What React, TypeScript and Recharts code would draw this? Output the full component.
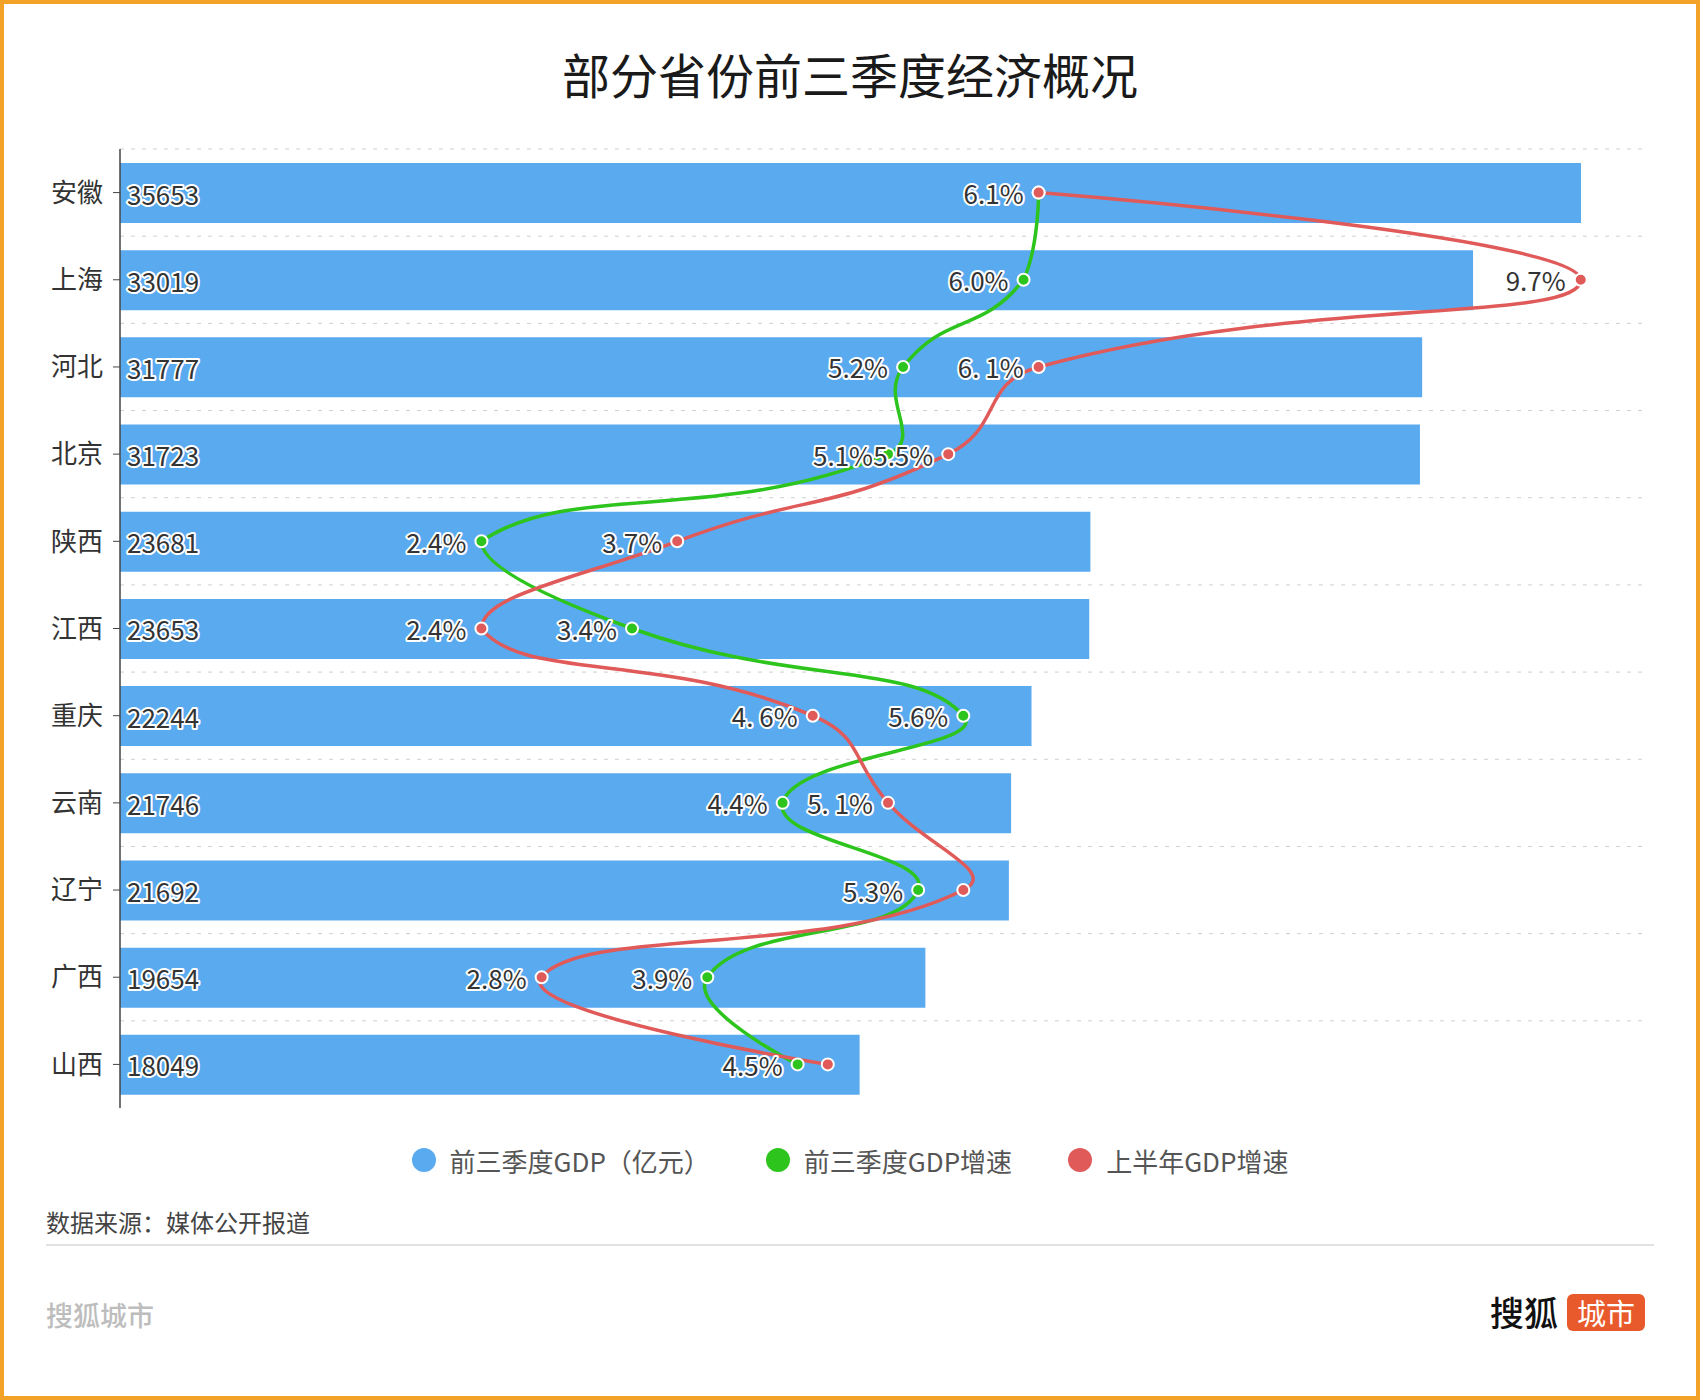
import React from 'react';
import { ComposedChart, Bar, Line, XAxis, YAxis, CartesianGrid, LabelList } from 'recharts';

const FONT = "'Noto Sans CJK SC', 'Noto Sans', sans-serif";

// data
const provinces = ['安徽', '上海', '河北', '北京', '陕西', '江西', '重庆', '云南', '辽宁', '广西', '山西'];
const gdpQ3 = [35653, 33019, 31777, 31723, 23681, 23653, 22244, 21746, 21692, 19654, 18049];
const growthQ3 = [6.1, 6.0, 5.2, 5.1, 2.4, 3.4, 5.6, 4.4, 5.3, 3.9, 4.5];
const growthH1 = [6.1, 9.7, 6.1, 5.5, 3.7, 2.4, 4.6, 5.1, 5.6, 2.8, 4.7];
const growthQ3Labels = ['6.1%', '6.0%', '5.2%', '5.1%', '2.4%', '3.4%', '5.6%', '4.4%', '5.3%', '3.9%', '4.5%'];
const growthH1Labels = ['6.1%', '9.7%', '6. 1%', '5.5%', '3.7%', '2.4%', '4. 6%', '5. 1%', '5.6%', '2.8%', '4.7%'];
const seriesNames = ['前三季度GDP（亿元）', '前三季度GDP增速', '上半年GDP增速'];
const seriesColors = ['#5AAAF0', '#2EC41E', '#E05A5A'];

const GDP_AXIS_MAX = 37264;
const RATE_AXIS_MAX = 10.14;

const chartData = provinces.map((p, i) => ({
  province: p,
  gdp: gdpQ3[i],
  q3: growthQ3[i],
  h1: growthH1[i],
}));

// bezier smoothing like a "smooth: true" line: end points keep no handle,
// inner points get handles along (next - prev), split by segment length
const smoothCurve = (context: any) => {
  let pts: [number, number][] = [];
  return {
    areaStart() {},
    areaEnd() {},
    lineStart() {
      pts = [];
    },
    point(x: number, y: number) {
      pts.push([+x, +y]);
    },
    lineEnd() {
      if (!pts.length) return;
      const s = 0.5;
      const n = pts.length;
      const xs = pts.map((p) => p[0]);
      const ys = pts.map((p) => p[1]);
      const minX = Math.min(...xs), maxX = Math.max(...xs);
      const minY = Math.min(...ys), maxY = Math.max(...ys);
      const clamp = (p: [number, number]): [number, number] => [
        Math.min(maxX, Math.max(minX, p[0])),
        Math.min(maxY, Math.max(minY, p[1])),
      ];
      const cpIn: [number, number][] = [];
      const cpOut: [number, number][] = [];
      for (let i = 0; i < n; i++) {
        const cur = pts[i];
        if (i === 0 || i === n - 1) {
          cpIn.push(cur);
          cpOut.push(cur);
          continue;
        }
        const prev = pts[i - 1];
        const next = pts[i + 1];
        const vx = (next[0] - prev[0]) * s;
        const vy = (next[1] - prev[1]) * s;
        let d0 = Math.hypot(cur[0] - prev[0], cur[1] - prev[1]);
        let d1 = Math.hypot(next[0] - cur[0], next[1] - cur[1]);
        const sum = d0 + d1;
        if (sum) {
          d0 /= sum;
          d1 /= sum;
        }
        cpIn.push(clamp([cur[0] - vx * d0, cur[1] - vy * d0]));
        cpOut.push(clamp([cur[0] + vx * d1, cur[1] + vy * d1]));
      }
      context.moveTo(pts[0][0], pts[0][1]);
      for (let i = 1; i < n; i++) {
        context.bezierCurveTo(cpOut[i - 1][0], cpOut[i - 1][1], cpIn[i][0], cpIn[i][1], pts[i][0], pts[i][1]);
      }
    },
  };
};

const outlinedText = (x: number, y: number, text: string, anchor: 'start' | 'end') => (
  <text
    x={x}
    y={y}
    textAnchor={anchor}
    dominantBaseline="central"
    fontSize={26}
    fontFamily={FONT}
    fill="#333"
    stroke="#fff"
    strokeWidth={4}
    strokeLinejoin="round"
    paintOrder="stroke"
  >
    {text}
  </text>
);

const BarValueLabel = (props: any) => {
  const { x, y, height, value } = props;
  return outlinedText(x + 7, y + height / 2, String(value), 'start');
};

const Q3Label = (props: any) => {
  const { x, y, index } = props;
  return outlinedText(x - 15, y, growthQ3Labels[index], 'end');
};

const H1Label = (props: any) => {
  const { x, y, index } = props;
  // labels that would sit on top of the green one are dropped
  if (Math.abs(growthH1[index] - growthQ3[index]) < 0.35) return null;
  return outlinedText(x - 15, y, growthH1Labels[index], 'end');
};

const App: React.FC = () => {
  return (
    <div style={{ position: 'absolute', left: 0, top: 0, width: 1700, height: 1400, background: '#fff', fontFamily: FONT }}>
      <div
        style={{
          position: 'absolute',
          left: 0,
          width: 1700,
          textAlign: 'center',
          top: 42,
          fontSize: 48,
          fontWeight: 400,
          color: '#1a1a1a',
          lineHeight: '62px',
        }}
      >
        部分省份前三季度经济概况
      </div>

      <div style={{ position: 'absolute', left: 0, top: 0 }}>
        <ComposedChart
          width={1700}
          height={1140}
          data={chartData}
          layout="vertical"
          margin={{ top: 149, right: 53, bottom: 32, left: 0 }}
        >
          <CartesianGrid
            vertical={false}
            stroke="#cfcfcf"
            strokeDasharray="4 7"
            horizontalCoordinatesGenerator={({ offset }: any) =>
              provinces.map((_, i) => offset.top + (i * offset.height) / provinces.length)
            }
          />
          <XAxis xAxisId="gdp" type="number" domain={[0, GDP_AXIS_MAX]} hide />
          <XAxis xAxisId="rate" type="number" domain={[0, RATE_AXIS_MAX]} hide />
          <YAxis
            type="category"
            dataKey="province"
            width={120}
            axisLine={{ stroke: '#444', strokeWidth: 1.5 }}
            tickLine={{ stroke: '#444' }}
            tickSize={7}
            tickMargin={10}
            tick={{ fontSize: 26, fill: '#333', fontFamily: FONT }}
          />
          <Bar xAxisId="gdp" dataKey="gdp" barSize={60} fill={seriesColors[0]} isAnimationActive={false}>
            <LabelList dataKey="gdp" content={BarValueLabel} />
          </Bar>
          <Line
            xAxisId="rate"
            dataKey="q3"
            type={smoothCurve as any}
            stroke={seriesColors[1]}
            strokeWidth={3.5}
            dot={{ r: 6, fill: seriesColors[1], stroke: '#fff', strokeWidth: 2 }}
            activeDot={false}
            isAnimationActive={false}
          >
            <LabelList dataKey="q3" content={Q3Label} />
          </Line>
          <Line
            xAxisId="rate"
            dataKey="h1"
            type={smoothCurve as any}
            stroke={seriesColors[2]}
            strokeWidth={3.5}
            dot={{ r: 6, fill: seriesColors[2], stroke: '#fff', strokeWidth: 2 }}
            activeDot={false}
            isAnimationActive={false}
          >
            <LabelList dataKey="h1" content={H1Label} />
          </Line>
        </ComposedChart>
      </div>

      {/* legend */}
      <div
        style={{
          position: 'absolute',
          left: 0,
          top: 1140,
          width: 1700,
          height: 40,
          display: 'flex',
          justifyContent: 'center',
          alignItems: 'center',
        }}
      >
        {seriesNames.map((name, i) => (
          <div key={name} style={{ display: 'flex', alignItems: 'center', marginLeft: i === 0 ? 0 : 56 }}>
            <span
              style={{
                width: 24,
                height: 24,
                borderRadius: 12,
                background: seriesColors[i],
                display: 'inline-block',
                marginRight: 14,
              }}
            />
            <span style={{ fontSize: 26, color: '#555' }}>{name}</span>
          </div>
        ))}
      </div>

      <div style={{ position: 'absolute', left: 46, top: 1205, fontSize: 24, color: '#444', lineHeight: '34px' }}>
        数据来源：媒体公开报道
      </div>
      <div style={{ position: 'absolute', left: 46, top: 1244, width: 1608, height: 2, background: '#e2e2e2' }} />
      <div style={{ position: 'absolute', left: 46, top: 1296, fontSize: 27, color: '#bdbdbd', fontWeight: 500, lineHeight: '38px' }}>
        搜狐城市
      </div>

      {/* logo */}
      <div style={{ position: 'absolute', left: 1490, top: 1292, display: 'flex', alignItems: 'center' }}>
        <span style={{ fontSize: 34, color: '#111', fontWeight: 500, lineHeight: '40px', marginRight: 9 }}>搜狐</span>
        <span
          style={{
            background: '#E8592B',
            color: '#fff',
            fontSize: 29,
            lineHeight: '37px',
            padding: '0 10px',
            borderRadius: 6,
          }}
        >
          城市
        </span>
      </div>

      <div
        style={{
          position: 'absolute',
          left: 0,
          top: 0,
          width: 1700,
          height: 1400,
          boxSizing: 'border-box',
          border: '4px solid #F2A226',
          pointerEvents: 'none',
        }}
      />
    </div>
  );
};

export default App;
